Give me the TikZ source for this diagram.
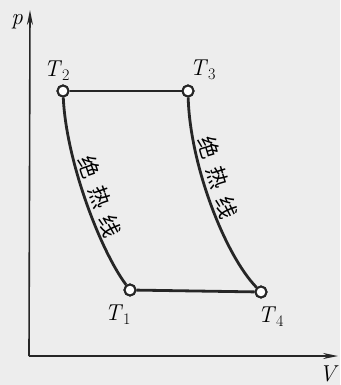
\documentclass[tikz,border=0pt]{standalone}
\usepackage{fontspec}
\newfontfamily\cjk{Noto Sans CJK SC}
\usepackage{tikz}
\usetikzlibrary{arrows.meta,positioning}
\newcommand{\tsub}[2]{\textit{#1}\textsubscript{#2}}

\begin{document}
\begin{tikzpicture}[
    x=1pt, y=-1pt,
    state/.style={circle, draw=black!85, line width=2pt, fill=white, inner sep=0pt, minimum size=11pt},
    tlabel/.style={font=\fontsize{23}{27}\selectfont, inner sep=1pt},
    curve/.style={draw=black!85, line width=2.8pt},
    axis/.style={draw=black!85, line width=1.6pt, -{Stealth[length=15pt,width=6pt]}},
    tag/.style={font=\cjk\fontsize{22}{25}\selectfont, sloped, above, inner sep=3pt}
]
\useasboundingbox[fill=black!7] (0,0) rectangle (340,385);

% axes
\coordinate (o) at (29,356);
\coordinate (ptip) at (30,10);
\coordinate (vtip) at (338,356);
\draw [axis] (o) -- (ptip);
\draw [axis] (o) -- (vtip);
\node [tlabel] (p) at (17,22) {\textit{p}};
\node [tlabel] (v) at (329,374) {\textit{V}};

% states
\node [state] (t2) at (63,91) {};
\node [state] (t3) at (188,91) {};
\node [state] (t1) at (130,290) {};
\node [state] (t4) at (261,292) {};
\node [tlabel] (l2) at (57,71) {\tsub{T}{2}};
\node [tlabel] (l3) at (203,70) {\tsub{T}{3}};
\node [tlabel] (l1) at (118,315) {\tsub{T}{1}};
\node [tlabel] (l4) at (271,317) {\tsub{T}{4}};

% isotherms
\draw [curve] (t2) -- (t3);
\draw [curve] (t1) -- (t4);

% adiabats
\draw [curve] (t2) .. controls (66,160) and (100,250) .. node [tag, pos=0.5] {绝\hspace{9pt}热\hspace{9pt}线} (t1);
\draw [curve] (t3) .. controls (190,165) and (225,255) .. node [tag, pos=0.39] {绝\hspace{9pt}热\hspace{9pt}线} (t4);

% redraw circles on top
\node [state] at (t2) {};
\node [state] at (t3) {};
\node [state] at (t1) {};
\node [state] at (t4) {};

\end{tikzpicture}
\end{document}
